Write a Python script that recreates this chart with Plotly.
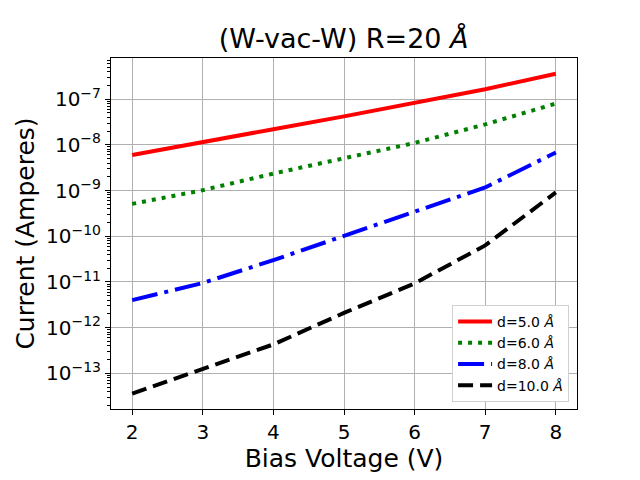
import plotly.graph_objects as go

# bias voltage (V)
voltage = [2, 3, 4, 5, 6, 7, 8]

# current (A) for each gap distance
current_d5 = [6.0e-9, 1.17e-8, 2.2e-8, 4.2e-8, 8.2e-8, 1.65e-7, 3.6e-7]
current_d6 = [5.1e-10, 1.02e-9, 2.35e-9, 5.0e-9, 1.1e-8, 2.8e-8, 8.0e-8]
current_d8 = [4.0e-12, 9.5e-12, 3.0e-11, 1.0e-10, 3.5e-10, 1.17e-9, 6.8e-9]
current_d10 = [3.6e-14, 1.23e-13, 4.3e-13, 2.1e-12, 9.3e-12, 6.3e-11, 9.1e-10]

series_names = ["d=5.0 <i>Å</i>", "d=6.0 <i>Å</i>", "d=8.0 <i>Å</i>", "d=10.0 <i>Å</i>"]
series_values = [current_d5, current_d6, current_d8, current_d10]

y_exponents = [-13, -12, -11, -10, -9, -8, -7]
y_ticktext = ["10<sup>\u2212%d</sup>" % (-e) for e in y_exponents]

colors = ["red", "green", "blue", "black"]
dashes = ["solid", "4px,6px", "26px,7px,4px,7px", "15px,7px"]

fig = go.Figure()
for name, vals, col, dsh in zip(series_names, series_values, colors, dashes):
    fig.add_trace(go.Scatter(
        x=voltage, y=vals, name=name, mode="lines",
        line=dict(color=col, width=4, dash=dsh),
    ))

minor_vals = [k * 10.0 ** e for e in range(-14, -5) for k in range(2, 10)]

fig.update_layout(
    width=640, height=480,
    paper_bgcolor="white", plot_bgcolor="white",
    font=dict(family="DejaVu Sans", color="black"),
    margin=dict(l=111, r=63, t=58, b=67),
    title=dict(text="(W-vac-W) R=20 <i>Å</i>", x=0.537, xanchor="center",
               y=0.92, yanchor="middle", font=dict(size=27)),
    showlegend=True,
    legend=dict(x=0.983, y=0.02, xanchor="right", yanchor="bottom",
                bgcolor="white", bordercolor="#d0d0d0", borderwidth=1,
                font=dict(size=14), itemwidth=34, tracegroupgap=0),
)
fig.update_xaxes(
    range=[1.7, 8.3], dtick=1, tick0=2,
    showgrid=True, gridcolor="#b0b0b0", gridwidth=1,
    showline=True, linecolor="black", linewidth=1, mirror=True,
    ticks="outside", ticklen=5, tickcolor="black",
    tickfont=dict(size=20), zeroline=False,
    title=dict(text="Bias Voltage (V)", font=dict(size=25), standoff=6),
)
fig.update_yaxes(
    type="log", range=[-13.78, -6.1],
    tickvals=[10.0 ** e for e in y_exponents], ticktext=y_ticktext,
    showgrid=True, gridcolor="#b0b0b0", gridwidth=1,
    showline=True, linecolor="black", linewidth=1, mirror=True,
    ticks="outside", ticklen=5, tickcolor="black",
    tickfont=dict(size=20), zeroline=False,
    minor=dict(tickvals=minor_vals, ticks="outside", ticklen=3,
               tickcolor="black", showgrid=False),
    title=dict(text="Current (Amperes)", font=dict(size=25), standoff=4),
)

# page body has a default margin, drop it so the figure fills the window
fig.write_html("out.html", config={"displayModeBar": False},
               post_script="document.body.style.margin='0';")
